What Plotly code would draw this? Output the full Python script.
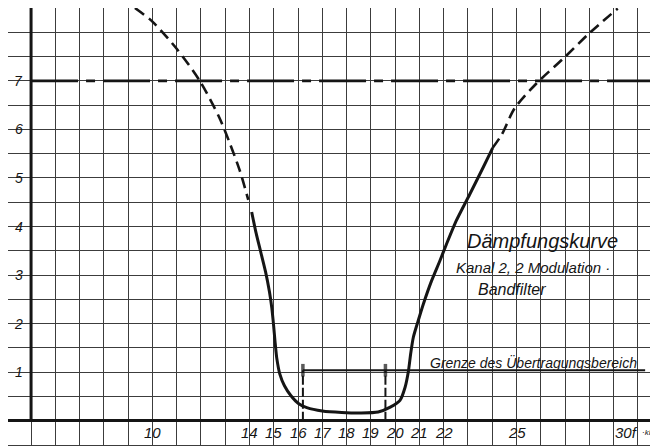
import plotly.graph_objects as go

# ---------------- data ----------------
# dashed (extrapolated) left flank of the attenuation curve
left_dash_f = [9.28, 10.0, 11.0, 11.95, 12.75, 13.2, 13.6, 13.95]
left_dash_a = [8.5, 8.22, 7.66, 7.0, 6.25, 5.70, 5.15, 4.55]

# measured attenuation curve (solid)
curve_f = [14.09, 14.26, 14.46, 14.66, 14.82, 14.92, 14.99, 15.05, 15.12, 15.25,
           15.44, 15.70, 16.03, 16.36, 17.0, 17.8, 18.6, 19.3, 19.80, 20.20,
           20.41, 20.55, 20.64, 20.75, 20.95, 21.16, 21.50, 21.84, 22.11, 22.52,
           23.07, 23.62, 24.02]
curve_a = [4.30, 3.89, 3.48, 3.07, 2.66, 2.32, 1.98, 1.64, 1.30, 0.96,
           0.72, 0.52, 0.35, 0.27, 0.20, 0.17, 0.16, 0.18, 0.28, 0.42,
           0.69, 1.03, 1.38, 1.72, 2.06, 2.40, 2.88, 3.29, 3.63, 4.12,
           4.66, 5.21, 5.62]

# dashed (extrapolated) right flank
right_dash_f = [24.02, 24.4, 24.92, 25.81, 26.95, 28.0, 29.17]
right_dash_a = [5.62, 5.90, 6.43, 6.94, 7.47, 7.98, 8.49]

ref_level = 7.0                 # horizontal dash-dot reference
band_f = [16.2, 19.6]           # limits of the transmission range
limit_a = 1.04                  # level of the "Grenze" line
limit_end_f = 30.3

x_tick_vals = [10, 14, 15, 16, 17, 18, 19, 20, 21, 22, 25]
x_tick_text = ["10", "14", "15", "16", "17", "18", "19", "20", "21", "22", "25"]
y_tick_vals = [1, 2, 3, 4, 5, 6, 7]
y_tick_text = ["1", "2", "3", "4", "5", "6", "7"]

X_MIN, X_MAX = 4.05, 30.83
Y_MIN, Y_MAX = -0.5, 8.5

INK = "#151515"
GRID = "#3c3c3c"
FONT = "Liberation Sans, Arial, sans-serif"

fig = go.Figure()

# reference level (long dash / short dash)
fig.add_trace(go.Scatter(x=[5, X_MAX], y=[ref_level, ref_level], mode="lines",
                         line=dict(color=INK, width=2.6, dash="47px,8px,9px,8px"),
                         hoverinfo="skip", showlegend=False))

# dashed flanks
for fx, ay in ((left_dash_f, left_dash_a), (right_dash_f, right_dash_a)):
    fig.add_trace(go.Scatter(x=fx, y=ay, mode="lines",
                             line=dict(color=INK, width=2.6, dash="11px,6px",
                                       shape="spline", smoothing=0.8),
                             hoverinfo="skip", showlegend=False))

# measured curve
fig.add_trace(go.Scatter(x=curve_f, y=curve_a, mode="lines",
                         line=dict(color=INK, width=3.0, shape="spline", smoothing=0.6),
                         hoverinfo="skip", showlegend=False))

# limit of transmission range
fig.add_trace(go.Scatter(x=[band_f[0], limit_end_f], y=[limit_a, limit_a], mode="lines",
                         line=dict(color=INK, width=2.0),
                         hoverinfo="skip", showlegend=False))
for bf in band_f:
    fig.add_trace(go.Scatter(x=[bf, bf], y=[0, limit_a], mode="lines+markers",
                             line=dict(color=INK, width=2.0, dash="9px,3px"),
                             marker=dict(symbol="line-ns", size=[0, 9], color=INK,
                                         line=dict(color=INK, width=3.5)),
                             hoverinfo="skip", showlegend=False))

# heavy vertical axis
fig.add_shape(type="line", x0=5, x1=5, y0=0, y1=Y_MAX, xref="x", yref="y",
              line=dict(color=INK, width=3))

annotations = []
for v, t in zip(x_tick_vals, x_tick_text):
    annotations.append(dict(x=v, y=-0.25, text=t, showarrow=False,
                            font=dict(family=FONT, size=15, color=INK, style="italic")))
annotations.append(dict(x=30.07, y=-0.25, text="30f", showarrow=False, xanchor="right",
                        font=dict(family=FONT, size=15, color=INK, style="italic")))
annotations.append(dict(x=30.08, y=-0.25, text="·kHz", showarrow=False, xanchor="left",
                        font=dict(family=FONT, size=8, color=INK, style="italic")))
for v, t in zip(y_tick_vals, y_tick_text):
    annotations.append(dict(x=4.5, y=v, text=t, showarrow=False,
                            font=dict(family=FONT, size=14, color=INK, style="italic")))

annotations += [
    dict(x=26.09, y=3.70, text="Dämpfungskurve", showarrow=False,
         font=dict(family=FONT, size=20, color=INK, style="italic")),
    dict(x=25.70, y=3.16, text="Kanal 2, 2 Modulation ·", showarrow=False,
         font=dict(family=FONT, size=15, color=INK, style="italic")),
    dict(x=24.81, y=2.71, text="Bandfilter", showarrow=False,
         font=dict(family=FONT, size=16, color=INK, style="italic")),
    dict(x=21.34, y=1.20, text="Grenze des Übertragungsbereich", showarrow=False,
         xanchor="left",
         font=dict(family=FONT, size=14, color=INK, style="italic")),
]

# the page body adds an 8 px offset, so the figure is 650x440 and the
# plot area starts at the figure's top-left corner
fig.update_layout(
    width=650, height=440,
    margin=dict(l=0, r=0, t=0, b=3),
    paper_bgcolor="white", plot_bgcolor="white",
    annotations=annotations,
    xaxis=dict(range=[X_MIN, X_MAX], tick0=0, dtick=1, showgrid=True,
               gridcolor=GRID, gridwidth=1.2, showticklabels=False, ticks="",
               zeroline=False, showline=True, mirror=True, linecolor=GRID, linewidth=1.2),
    yaxis=dict(range=[Y_MIN, Y_MAX], tick0=0, dtick=0.5, showgrid=True,
               gridcolor=GRID, gridwidth=1.2, showticklabels=False, ticks="",
               zeroline=True, zerolinecolor=INK, zerolinewidth=3,
               showline=True, mirror=False, linecolor=GRID, linewidth=1.2),
)

fig.write_html("out.html")
